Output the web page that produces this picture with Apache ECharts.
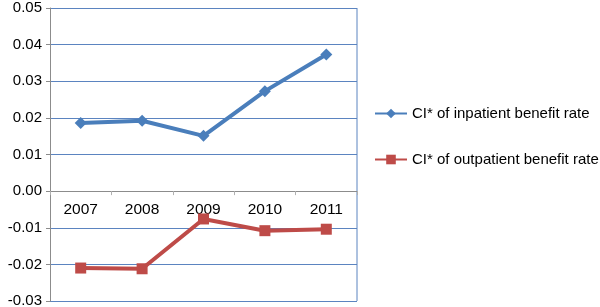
<!DOCTYPE html>
<html>
<head>
<meta charset="utf-8">
<script src="https://cdn.jsdelivr.net/npm/echarts@6/dist/echarts.min.js"></script>
<style>
  html, body { margin: 0; padding: 0; background: #fff; }
  #main { width: 600px; height: 307px; }
</style>
</head>
<body>
<div id="main"></div>
<script>
// data
var years = ['2007', '2008', '2009', '2010', '2011']
var inpatient = [0.0186, 0.0192, 0.0151, 0.0273, 0.0373]
var outpatient = [-0.0210, -0.0212, -0.0076, -0.0108, -0.0104]
var seriesNames = ['CI* of inpatient benefit rate', 'CI* of outpatient benefit rate']

var chartDom = document.getElementById('main')
var myChart = echarts.init(chartDom)
var fontFam = '"Liberation Sans", Arial, sans-serif'
var option = {
  animation: false,
  grid: { left: 50, top: 8, width: 307, height: 293, outerBoundsMode: 'none', containLabel: false },
  legend: {
    orient: 'vertical',
    left: 369,
    top: 101,
    itemGap: 31,
    itemWidth: 32,
    itemHeight: 12,
    textStyle: { fontFamily: fontFam, fontSize: 15, color: '#000' },
    data: seriesNames
  },
  xAxis: {
    type: 'category',
    data: years,
    axisLine: { onZero: true, lineStyle: { color: '#8c8c8c', width: 1 } },
    axisTick: { show: true, interval: 0, length: 4, lineStyle: { color: '#b0b0b0' } },
    // labels sit just under the zero line, as in the picture
    axisLabel: { fontFamily: fontFam, fontSize: 15.5, color: '#000', margin: -99 },
    splitLine: { show: false }
  },
  yAxis: {
    type: 'value',
    min: -0.03,
    max: 0.05,
    interval: 0.01,
    axisLine: { show: true, lineStyle: { color: '#8c8c8c' } },
    axisTick: { show: true, length: 4, lineStyle: { color: '#8c8c8c' } },
    axisLabel: {
      fontFamily: fontFam, fontSize: 15, color: '#000', margin: 8,
      formatter: function (v) { return v.toFixed(2) }
    },
    splitLine: { show: true, lineStyle: { color: '#5b84c0', width: 1 } }
  },
  series: [
    {
      name: seriesNames[0],
      type: 'line',
      data: inpatient,
      symbol: 'diamond',
      symbolSize: 12,
      lineStyle: { color: '#4a7ebb', width: 4 },
      itemStyle: { color: '#4a7ebb' }
    },
    {
      name: seriesNames[1],
      type: 'line',
      data: outpatient,
      symbol: 'rect',
      symbolSize: 11,
      lineStyle: { color: '#be4b48', width: 4 },
      itemStyle: { color: '#be4b48' }
    }
  ],
  graphic: [
    {
      type: 'line',
      shape: { x1: 357, y1: 8, x2: 357, y2: 301 },
      style: { stroke: '#5b84c0', lineWidth: 1 }
    }
  ]
}
option && myChart.setOption(option)
</script>
</body>
</html>
